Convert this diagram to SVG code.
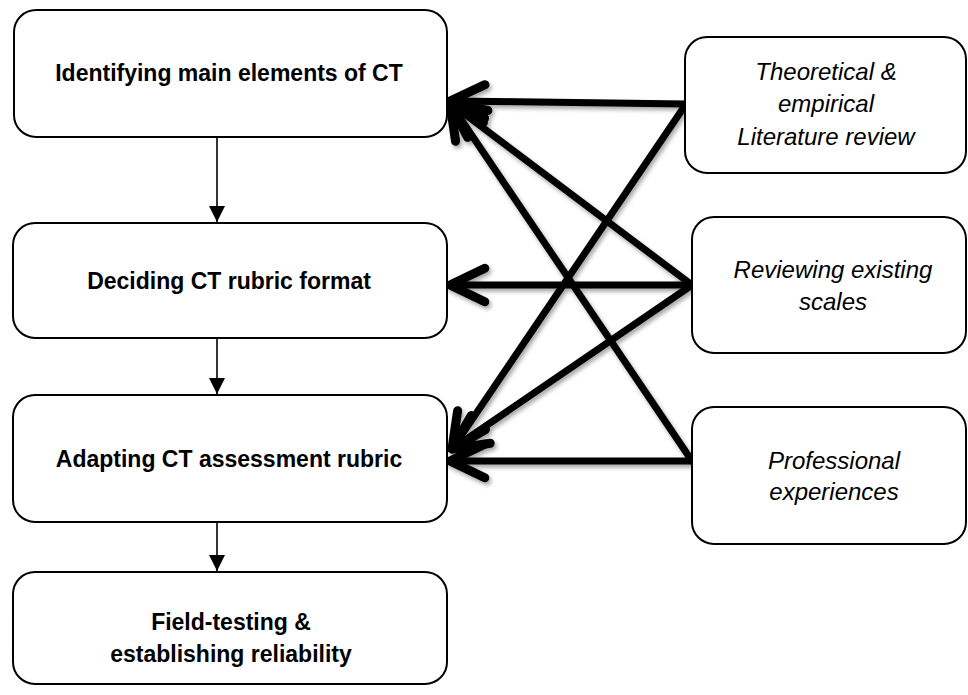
<svg xmlns="http://www.w3.org/2000/svg" width="968" height="695" viewBox="0 0 968 695">
<style>
.box{fill:#fff;stroke:#000;stroke-width:2}
.bt{font-family:"Liberation Sans",Arial,sans-serif;font-weight:bold;font-size:23px;fill:#000;text-anchor:middle}
.it{font-family:"Liberation Sans",Arial,sans-serif;font-style:italic;font-size:24px;fill:#000;text-anchor:middle}
.thick{fill:none;stroke:#000;stroke-width:7;stroke-linecap:round;marker-end:url(#vhead)}
.thin{fill:none;stroke:#000;stroke-width:1.6;marker-end:url(#tri)}
</style>
<defs>
<marker id="vhead" markerUnits="userSpaceOnUse" orient="auto" markerWidth="60" markerHeight="60" refX="0" refY="0" viewBox="-40 -25 50 50" overflow="visible">
<path d="M-29,-14 L0,0 L-29,14" fill="none" stroke="#000" stroke-width="7.5" stroke-linecap="round" stroke-linejoin="round"/>
</marker>
<marker id="tri" markerUnits="userSpaceOnUse" orient="auto" markerWidth="20" markerHeight="20" refX="0" refY="0" viewBox="-18 -9 20 18" overflow="visible">
<path d="M-16,-8 L0,0 L-16,8 Z" fill="#000"/>
</marker>
<filter id="sh" x="-10%" y="-10%" width="120%" height="120%">
<feDropShadow dx="2" dy="3" stdDeviation="2" flood-color="#000" flood-opacity="0.35"/>
</filter>
</defs>

<g id="connectors">
<line class="thin" x1="217" y1="137" x2="217" y2="222"/>
<line class="thin" x1="217" y1="338" x2="217" y2="394"/>
<line class="thin" x1="217" y1="522" x2="217" y2="571"/>
<g filter="url(#sh)">
<line class="thick" x1="686" y1="104" x2="450" y2="101"/>
<line class="thick" x1="692" y1="285" x2="450" y2="103"/>
<line class="thick" x1="692" y1="461" x2="450" y2="103"/>
<line class="thick" x1="692" y1="285" x2="450" y2="285"/>
<line class="thick" x1="686" y1="104" x2="452" y2="449"/>
<line class="thick" x1="692" y1="285" x2="452" y2="449"/>
<line class="thick" x1="692" y1="461" x2="450" y2="461"/>
</g>
</g>

<g id="n1">
<rect class="box" x="14" y="10" width="433" height="127" rx="22"/>
<text class="bt" x="229" y="81">Identifying main elements of CT</text>
</g>
<g id="n2">
<rect class="box" x="13" y="223" width="434" height="115" rx="22"/>
<text class="bt" x="229" y="289">Deciding CT rubric format</text>
</g>
<g id="n3">
<rect class="box" x="13" y="395" width="434" height="127" rx="22"/>
<text class="bt" x="229" y="467">Adapting CT assessment rubric</text>
</g>
<g id="n4">
<rect class="box" x="13" y="572" width="434" height="112" rx="22"/>
<text class="bt" x="231" y="630">Field-testing &amp;</text>
<text class="bt" x="231" y="662">establishing reliability</text>
</g>
<g id="s1">
<rect class="box" x="685" y="37" width="281" height="136" rx="22"/>
<text class="it" x="826" y="80">Theoretical &amp;</text>
<text class="it" x="826" y="112">empirical</text>
<text class="it" x="826" y="145">Literature review</text>
</g>
<g id="s2">
<rect class="box" x="692" y="217" width="274" height="136" rx="22"/>
<text class="it" x="833" y="278">Reviewing existing</text>
<text class="it" x="833" y="310">scales</text>
</g>
<g id="s3">
<rect class="box" x="692" y="407" width="274" height="137" rx="22"/>
<text class="it" x="834" y="469">Professional</text>
<text class="it" x="834" y="500">experiences</text>
</g>
</svg>
